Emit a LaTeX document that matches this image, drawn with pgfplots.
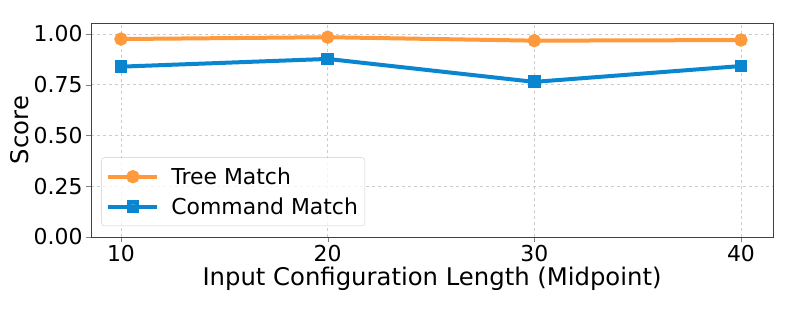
\documentclass[border=0pt]{standalone}
\usepackage{pgfplots}
\pgfplotsset{compat=1.18}
\usepackage{fontspec}
\setmainfont{DejaVu Sans}
\definecolor{treeC}{HTML}{FF9A3C}
\definecolor{cmdC}{HTML}{0A85D0}
\begin{document}
\begin{tikzpicture}[x=1bp,y=1bp]
\path[use as bounding box] (0,0) rectangle (797,319);
\begin{axis}[
  at={(91bp,82bp)}, anchor=south west,
  scale only axis, width=682bp, height=214bp,
  xmin=8.55, xmax=41.55, ymin=0, ymax=1.054,
  xtick={10,20,30,40},
  ytick={0,0.25,0.5,0.75,1.0},
  yticklabel style={/pgf/number format/.cd,fixed,fixed zerofill,precision=2},
  /pgf/number format/assume math mode=true,
  tick label style={font=\fontsize{22}{24}\selectfont},
  tick align=outside, tick pos=left,
  major tick length=5bp,
  grid=major,
  grid style={dashed, gray!40, line width=0.6pt},
  axis line style={black!75, line width=0.8pt},
  xlabel={Input Configuration Length (Midpoint)},
  ylabel={Score},
  label style={font=\fontsize{24.4}{26}\selectfont},
  xlabel style={yshift=2bp},
  ylabel style={yshift=-2bp},
  legend style={at={(0.015,0.051)}, anchor=south west, font=\fontsize{22}{24}\selectfont,
    draw=black!20, rounded corners=3pt, fill=white, fill opacity=0.8, text opacity=1,
    row sep=8bp, column sep=10bp, inner xsep=5bp, inner ysep=8bp},
  legend cell align=left,
  legend image code/.code={
    \draw[#1, line width=4bp] (0bp,0bp) -- (49bp,0bp);
    \path[#1, mark repeat=1] plot coordinates {(24.5bp,0bp)};
  },
]
\addplot[treeC, line width=4bp, mark=*, mark size=4.6bp, mark options={solid}] coordinates {
  (10,0.975) (20,0.984) (30,0.967) (40,0.970)
};
\addlegendentry{Tree Match}
\addplot[cmdC, line width=4bp, mark=square*, mark size=4.4bp, mark options={solid}] coordinates {
  (10,0.839) (20,0.877) (30,0.764) (40,0.842)
};
\addlegendentry{Command Match}
\end{axis}
\end{tikzpicture}
\end{document}
